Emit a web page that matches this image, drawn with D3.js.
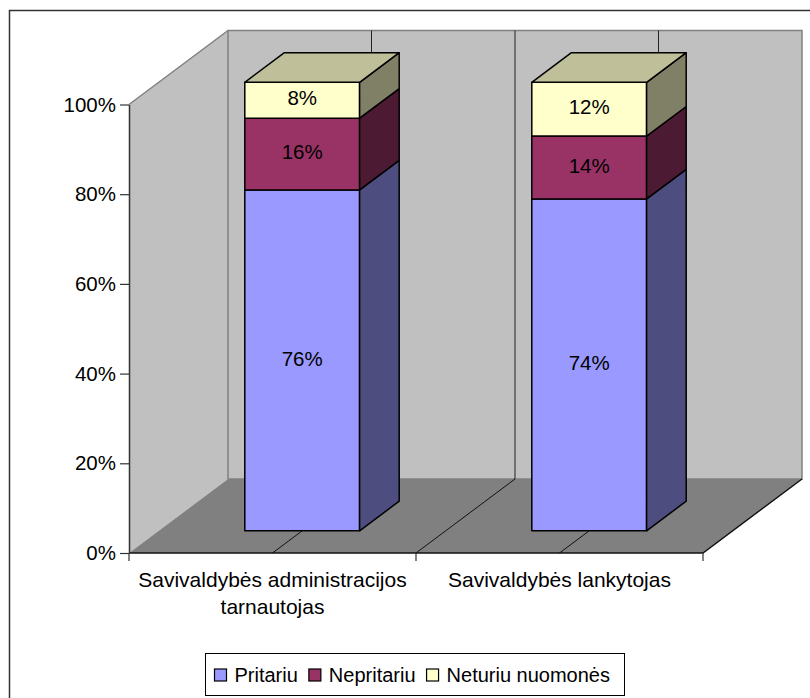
<!DOCTYPE html>
<html>
<head>
<meta charset="utf-8">
<script src="https://cdn.jsdelivr.net/npm/d3@7"></script>
<style>
  html, body { margin: 0; padding: 0; background: #fff; }
  svg { display: block; font-family: "Liberation Sans", Arial, sans-serif; }
</style>
</head>
<body>
<div id="chart"></div>
<script>
// data
const categories = ["Savivaldybės administracijos\ntarnautojas", "Savivaldybės lankytojas"];
const seriesNames = ["Pritariu", "Nepritariu", "Neturiu nuomonės"];
const pritariu = [0.76, 0.74];
const nepritariu = [0.16, 0.14];
const neturiu = [0.08, 0.12];
const yTicks = [0, 0.2, 0.4, 0.6, 0.8, 1];

const frontColors = ["#9999FF", "#993366", "#FFFFCC"];

const width = 810, height = 698;
// front plane of the 3D box and depth vector
const plot = { left: 128, right: 702, top: 104.5, bottom: 553 };
const depth = { dx: 99, dy: -74 };
const barZ = [0.3, 0.7];  // bars sit in the middle of the depth

const svg = d3.select("#chart").append("svg")
  .attr("width", width)
  .attr("height", height);

// outer chart border (only left and top visible, rest is cropped)
svg.append("rect")
  .attr("x", 9.5).attr("y", 10.5)
  .attr("width", 820).attr("height", 720)
  .attr("fill", "none")
  .attr("stroke", "#333")
  .attr("stroke-width", 1.5);

const y = d3.scaleLinear().domain([0, 1]).range([plot.bottom, plot.top]);
const x = d3.scaleBand().domain(categories)
  .range([plot.left, plot.right])
  .paddingInner(0.6).paddingOuter(0.3);

// oblique projection: (screen x, screen y on front plane, depth 0..1)
const P = (sx, sy, z) => [sx + z * depth.dx, sy + z * depth.dy];
const poly = pts => "M" + pts.map(p => p.join(",")).join("L") + "Z";

const g = svg.append("g").attr("transform", "translate(1,0)");

// left wall
g.append("path")
  .attr("d", poly([P(plot.left, y(1), 0), P(plot.left, y(1), 1), P(plot.left, y(0), 1), P(plot.left, y(0), 0)]))
  .attr("fill", "#C0C0C0");
// back wall
g.append("path")
  .attr("d", poly([P(plot.left, y(1), 1), P(plot.right, y(1), 1), P(plot.right, y(0), 1), P(plot.left, y(0), 1)]))
  .attr("fill", "#C0C0C0")
  .attr("stroke", "#808080")
  .attr("stroke-width", 1.5);
// left wall top edge
g.append("line")
  .attr("x1", P(plot.left, y(1), 0)[0]).attr("y1", P(plot.left, y(1), 0)[1])
  .attr("x2", P(plot.left, y(1), 1)[0]).attr("y2", P(plot.left, y(1), 1)[1])
  .attr("stroke", "#808080").attr("stroke-width", 1.5);
// floor
g.append("path")
  .attr("d", poly([P(plot.left, y(0), 0), P(plot.left, y(0), 1), P(plot.right, y(0), 1), P(plot.right, y(0), 0)]))
  .attr("fill", "#808080");

// category gridlines (centres and boundaries) on the back wall and floor
const step = x.step();
const gridX = [];
categories.forEach((c, i) => {
  gridX.push(plot.left + step * (i + 0.5));
  if (i > 0) gridX.push(plot.left + step * i);
});
gridX.forEach(gx => {
  const b0 = P(gx, y(1), 1), b1 = P(gx, y(0), 1), f = P(gx, y(0), 0);
  g.append("line")
    .attr("x1", b0[0]).attr("y1", b0[1]).attr("x2", b1[0]).attr("y2", b1[1])
    .attr("stroke", "#222").attr("stroke-width", 1);
  g.append("line")
    .attr("x1", b1[0]).attr("y1", b1[1]).attr("x2", f[0]).attr("y2", f[1])
    .attr("stroke", "#111").attr("stroke-width", 1);
});

// floor front + right edges
g.append("path")
  .attr("d", "M" + [P(plot.left, y(0), 0), P(plot.right, y(0), 0), P(plot.right, y(0), 1)].map(p => p.join(",")).join("L"))
  .attr("fill", "none").attr("stroke", "#111").attr("stroke-width", 1.5);

// value axis
const yAxis = g.append("g")
  .attr("transform", `translate(${plot.left},0)`)
  .call(d3.axisLeft(y).tickValues(yTicks).tickFormat(d3.format(".0%"))
    .tickSize(9).tickSizeOuter(0).tickPadding(4));
yAxis.select(".domain").attr("stroke", "#333").attr("stroke-width", 1.5);
yAxis.selectAll(".tick line").attr("stroke", "#333").attr("stroke-width", 1.2);
yAxis.selectAll(".tick text")
  .attr("font-size", 20.5).attr("fill", "#000")
  .attr("font-family", "'Liberation Sans', Arial, sans-serif");

// category axis ticks
const catTicks = d3.range(categories.length + 1).map(i => plot.left + step * i);
g.selectAll(".ctick").data(catTicks).enter().append("line")
  .attr("x1", d => d).attr("x2", d => d)
  .attr("y1", plot.bottom).attr("y2", plot.bottom + 8)
  .attr("stroke", "#333").attr("stroke-width", 1.2);

// category labels
categories.forEach((c, i) => {
  const cx = plot.left + step * (i + 0.5);
  const t = g.append("text")
    .attr("text-anchor", "middle")
    .attr("font-size", 21)
    .attr("fill", "#000");
  c.split("\n").forEach((line, j) => {
    t.append("tspan").attr("x", cx).attr("y", 587 + j * 27).text(line);
  });
});

// stacked bars
const rows = categories.map((c, i) => ({ cat: c, s0: pritariu[i], s1: nepritariu[i], s2: neturiu[i] }));
const stack = d3.stack().keys(["s0", "s1", "s2"])(rows);

const shade = (col, k) => {
  const c = d3.rgb(col);
  return d3.rgb(c.r * k, c.g * k, c.b * k).formatHex();
};

categories.forEach((c, i) => {
  const bx0 = x(c), bx1 = x(c) + x.bandwidth();
  stack.forEach((layer, si) => {
    const d = layer[i];
    const yb = y(d[0]), yt = y(d[1]);
    const col = frontColors[si];
    // front face
    g.append("path")
      .attr("d", poly([P(bx0, yt, barZ[0]), P(bx1, yt, barZ[0]), P(bx1, yb, barZ[0]), P(bx0, yb, barZ[0])]))
      .attr("fill", col).attr("stroke", "#000").attr("stroke-width", 1.5)
      .attr("stroke-linejoin", "round");
    // side face
    g.append("path")
      .attr("d", poly([P(bx1, yt, barZ[0]), P(bx1, yt, barZ[1]), P(bx1, yb, barZ[1]), P(bx1, yb, barZ[0])]))
      .attr("fill", shade(col, 0.5)).attr("stroke", "#000").attr("stroke-width", 1.5)
      .attr("stroke-linejoin", "round");
    // top face on the last segment
    if (si === stack.length - 1) {
      g.append("path")
        .attr("d", poly([P(bx0, yt, barZ[0]), P(bx0, yt, barZ[1]), P(bx1, yt, barZ[1]), P(bx1, yt, barZ[0])]))
        .attr("fill", shade(col, 0.75)).attr("stroke", "#000").attr("stroke-width", 1.5)
        .attr("stroke-linejoin", "round");
    }
    // value label
    const lp = P((bx0 + bx1) / 2, (yb + yt) / 2, barZ[0]);
    g.append("text")
      .attr("x", lp[0]).attr("y", lp[1] - 2)
      .attr("dy", "0.35em")
      .attr("text-anchor", "middle")
      .attr("font-size", 20.5)
      .attr("fill", "#000")
      .text(d3.format(".0%")(d[1] - d[0]));
  });
});

// legend
const legend = svg.append("g");
const legBox = { x: 205.5, y: 653.5, w: 419, h: 42 };
legend.append("rect")
  .attr("x", legBox.x).attr("y", legBox.y)
  .attr("width", legBox.w).attr("height", legBox.h)
  .attr("fill", "#fff").attr("stroke", "#000").attr("stroke-width", 1);
let lx = legBox.x + 9;
seriesNames.forEach((name, i) => {
  legend.append("rect")
    .attr("x", lx).attr("y", 669)
    .attr("width", 12).attr("height", 12)
    .attr("fill", frontColors[i]).attr("stroke", "#000").attr("stroke-width", 1.2);
  const t = legend.append("text")
    .attr("x", lx + 20).attr("y", 682)
    .attr("font-size", 20).attr("fill", "#000")
    .text(name);
  lx += 20 + t.node().getComputedTextLength() + 11;
});
</script>
</body>
</html>
